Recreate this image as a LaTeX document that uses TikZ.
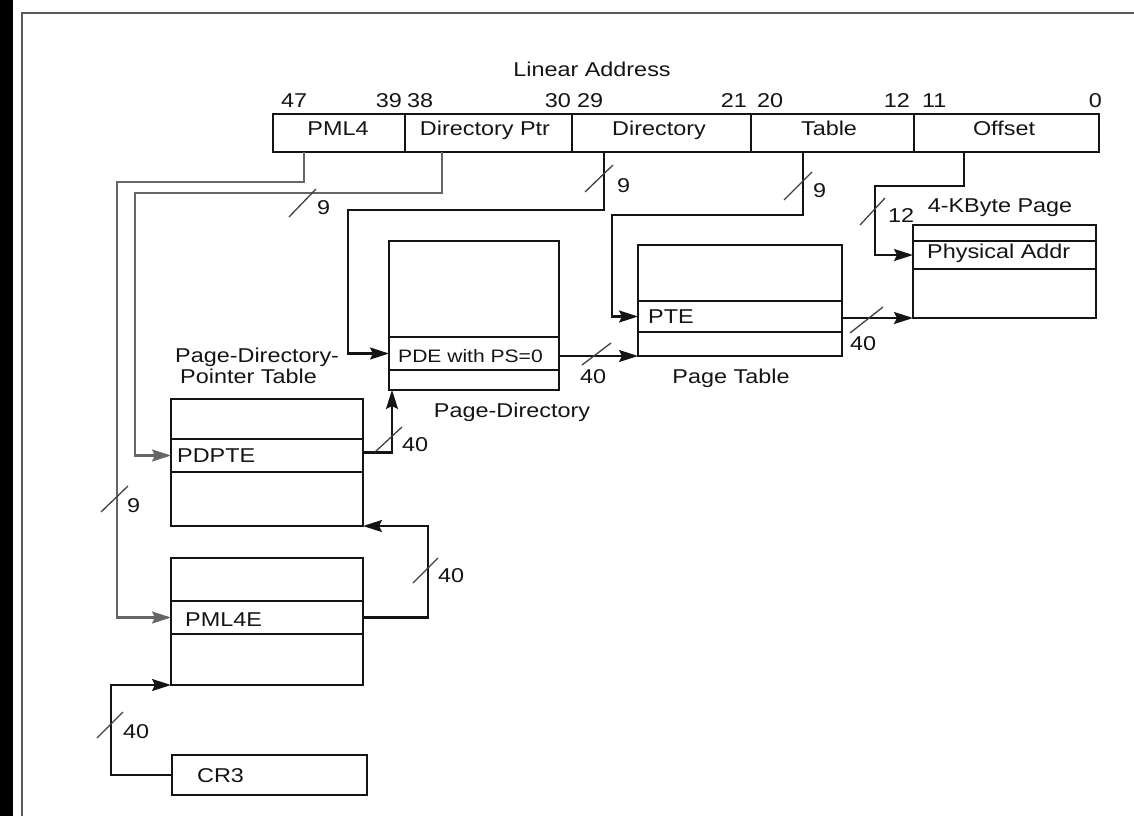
\documentclass[tikz,border=0pt]{standalone}
\usepackage{fontspec}
\setmainfont{Liberation Sans}[FakeStretch=1.17]
\usetikzlibrary{arrows.meta}
\begin{document}
\begin{tikzpicture}[x=1pt,y=-1pt,
  font=\fontsize{20}{21}\selectfont,
  every node/.style={text=black!92},
  box/.style={draw=black!92, line width=2.1pt, rectangle, inner sep=0pt, outer sep=0pt, anchor=north west},
  conn/.style={draw=black!92, line width=2.1pt, -{Stealth[length=19pt,width=12pt,inset=3pt]}},
  connlong/.style={conn, draw=black!60},
  slash/.style={draw=black!75, line width=1.3pt},
  txt/.style={inner sep=0pt, anchor=base},
  txtw/.style={inner sep=0pt, anchor=base west},
  txte/.style={inner sep=0pt, anchor=base east},
  small/.style={font=\fontsize{18}{18}\selectfont}]
\useasboundingbox (0,0) rectangle (1134,816);
% frame
\fill[black] (0,0) rectangle (13,816);
\draw[black!65, line width=2.5pt] (22,816) |- (1134,13);

% linear address
\node[txt] (la) at (592,76) {Linear Address};
\node[box, minimum width=132pt, minimum height=38pt] (fPML4) at (273,114) {};
\node[box, minimum width=167pt, minimum height=38pt] (fDP) at (405,114) {};
\node[box, minimum width=179pt, minimum height=38pt] (fDir) at (572,114) {};
\node[box, minimum width=163pt, minimum height=38pt] (fTab) at (751,114) {};
\node[box, minimum width=185pt, minimum height=38pt] (fOff) at (914,114) {};
\node[txt] (tPML4) at (338,135) {PML4};
\node[txt] (tDP) at (485,135) {Directory Ptr};
\node[txt] (tDir) at (659,135) {Directory};
\node[txt] (tTab) at (829,135) {Table};
\node[txt] (tOff) at (1004,135) {Offset};
\node[txtw] (b47) at (281,107) {47};
\node[txte] (b39) at (402,107) {39};
\node[txtw] (b38) at (407,107) {38};
\node[txte] (b30) at (571,107) {30};
\node[txtw] (b29) at (577,107) {29};
\node[txte] (b21) at (747,107) {21};
\node[txtw] (b20) at (757,107) {20};
\node[txte] (b12) at (910,107) {12};
\node[txtw] (b11) at (922,107) {11};
\node[txte] (b0) at (1102,107) {0};

% 4-KByte page
\node[box, minimum width=183pt, minimum height=16pt] (p4a) at (913,225) {};
\node[box, minimum width=183pt, minimum height=28pt] (p4b) at (913,241) {};
\node[box, minimum width=183pt, minimum height=49pt] (p4c) at (913,269) {};
\node[txtw] (tPA) at (927,258) {Physical Addr};
\node[txt] (l4k) at (1000,212) {4-KByte Page};

% page table
\node[box, minimum width=204pt, minimum height=56pt] (pta) at (638,245) {};
\node[box, minimum width=204pt, minimum height=31pt] (pte) at (638,301) {};
\node[box, minimum width=204pt, minimum height=24pt] (ptc) at (638,332) {};
\node[txtw] (tPTE) at (648,323) {PTE};
\node[txt] (lPT) at (731,383) {Page Table};

% page directory
\node[box, minimum width=170pt, minimum height=96pt] (pda) at (389,241) {};
\node[box, minimum width=170pt, minimum height=33pt] (pde) at (389,337) {};
\node[box, minimum width=170pt, minimum height=20pt] (pdc) at (389,370) {};
\node[txtw, small] (tPDE) at (398,362) {PDE with PS=0};
\node[txt] (lPD) at (512,417) {Page-Directory};

% PDPT
\node[box, minimum width=192pt, minimum height=40pt] (pdpta) at (171,399) {};
\node[box, minimum width=192pt, minimum height=33pt] (pdpte) at (171,439) {};
\node[box, minimum width=192pt, minimum height=54pt] (pdptc) at (171,472) {};
\node[txtw] (tPDPTE) at (177,462) {PDPTE};
\node[txtw] (lPDPT1) at (175,362) {Page-Directory-};
\node[txtw] (lPDPT2) at (180,383) {Pointer Table};

% PML4 table
\node[box, minimum width=192pt, minimum height=43pt] (pml4a) at (171,558) {};
\node[box, minimum width=192pt, minimum height=33pt] (pml4e) at (171,601) {};
\node[box, minimum width=192pt, minimum height=51pt] (pml4c) at (171,634) {};
\node[txtw] (tPML4E) at (185,626) {PML4E};

% CR3
\node[box, minimum width=195pt, minimum height=40pt] (cr3) at (172,755) {};
\node[txtw] (tCR3) at (197,782) {CR3};

% connectors from linear address
\draw[connlong] ([xshift=31pt]fPML4.south west) |- (117,182) |- (pml4e.west);
\draw[connlong] ([xshift=37pt]fDP.south west) |- (135,193) |- (pdpte.west);
\draw[conn] ([xshift=32pt]fDir.south west) |- (348,210) |- (pde.west);
\draw[conn] ([xshift=52pt]fTab.south west) |- (612,215) |- (pte.west);
\draw[conn] ([xshift=50pt]fOff.south west) |- (875,186) |- (p4b.west);

% table chain
\draw[conn] (cr3.west) -| ([xshift=-60pt]pml4c.south west) -- (pml4c.south west);
\draw[conn] (pml4e.east) -| ([xshift=65pt]pdptc.south east) -- (pdptc.south east);
\draw[conn] ([yshift=3pt]pdpte.east) -| ([xshift=3pt]pdc.south west);
\draw[conn] (pde.east |- ptc.south west) -- (ptc.south west);
\draw[conn] (pte.east |- p4c.south west) -- (p4c.south west);

% slashes and widths
\draw[slash] (289,217) -- (316,189);
\node[txtw] (w1) at (317,214) {9};
\draw[slash] (585,192) -- (613,165);
\node[txtw] (w2) at (617,192) {9};
\draw[slash] (784,200) -- (812,172);
\node[txtw] (w3) at (813,197) {9};
\draw[slash] (860,225) -- (885,198);
\node[txtw] (w4) at (888,222) {12};
\draw[slash] (582,365) -- (611,343);
\node[txtw] (w5) at (580,383) {40};
\draw[slash] (850,333) -- (883,307);
\node[txtw] (w6) at (850,350) {40};
\draw[slash] (375,452) -- (402,427);
\node[txtw] (w7) at (402,451) {40};
\draw[slash] (413,583) -- (438,558);
\node[txtw] (w8) at (438,582) {40};
\draw[slash] (101,512) -- (128,486);
\node[txtw] (w9) at (127,512) {9};
\draw[slash] (97,738) -- (123,712);
\node[txtw] (w10) at (123,738) {40};
\end{tikzpicture}
\end{document}
